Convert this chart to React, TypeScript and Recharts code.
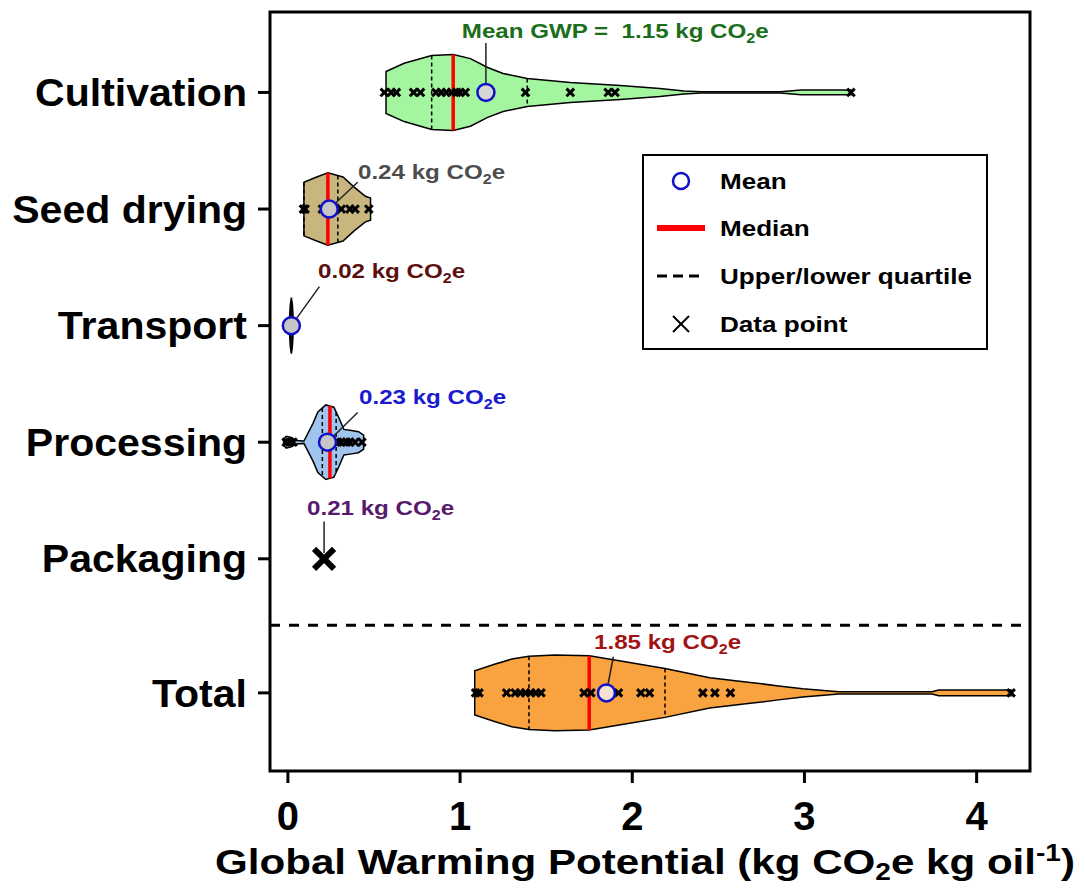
import React from 'react'
import {
  ComposedChart,
  Area,
  Line,
  Scatter,
  XAxis,
  YAxis,
  ReferenceLine,
  ReferenceArea,
} from 'recharts'

const FONT = "'Liberation Sans', Arial, Helvetica, sans-serif"

const categories = ['Cultivation', 'Seed drying', 'Transport', 'Processing', 'Packaging', 'Total']
const rowPos = [1, 2, 3, 4, 5, 6.15]
const separatorPos = 5.57
const xTicks = [0, 1, 2, 3, 4]
const X_DOMAIN: [number, number] = [-0.104, 4.31]
const Y_DOMAIN: [number, number] = [0.31, 6.82]

// violin outlines: GWP value and half width (row units)
const cultivationX = [0.57, 0.675, 0.835, 0.96, 1.06, 1.16, 1.25, 1.39, 1.64, 1.93, 2.16, 2.3, 2.4, 2.86, 2.98, 3.27]
const cultivationW = [0.18, 0.25, 0.317, 0.326, 0.29, 0.214, 0.163, 0.12, 0.086, 0.06, 0.034, 0.013, 0.005, 0.005, 0.02, 0.02]
const seedX = [0.093, 0.16, 0.232, 0.32, 0.383, 0.45, 0.48]
const seedW = [0.23, 0.27, 0.31, 0.275, 0.19, 0.11, 0.095]
const transportX = [0.008, 0.014, 0.02, 0.026, 0.032]
const transportW = [0.03, 0.18, 0.24, 0.18, 0.03]
const processingX = [-0.025, -0.01, 0.02, 0.05, 0.093, 0.145, 0.174, 0.22, 0.267, 0.296, 0.325, 0.37, 0.41, 0.44]
const processingW = [0.025, 0.05, 0.04, 0.015, 0.01, 0.16, 0.26, 0.32, 0.3, 0.21, 0.11, 0.1, 0.09, 0.06]
const totalX = [1.085, 1.2, 1.3, 1.4, 1.55, 1.75, 1.95, 2.19, 2.45, 2.66, 2.85, 2.99, 3.2, 3.74, 3.78, 4.2]
const totalW = [0.19, 0.245, 0.29, 0.315, 0.325, 0.318, 0.27, 0.21, 0.13, 0.094, 0.06, 0.035, 0.01, 0.01, 0.025, 0.025]

const violinX = [cultivationX, seedX, transportX, processingX, null, totalX]
const violinW = [cultivationW, seedW, transportW, processingW, null, totalW]

// summary stats
const means = [1.15, 0.24, 0.02, 0.23, 0.21, 1.85]
const medians = [0.96, 0.232, null, 0.244, null, 1.75]
const lowerQ = [0.835, 0.093, null, 0.2, null, 1.4]
const upperQ = [1.39, 0.29, null, 0.28, null, 2.19]

// individual data points
const cultivationPts = [0.56, 0.6, 0.63, 0.73, 0.77, 0.86, 0.89, 0.92, 0.95, 0.98, 1.0, 1.03, 1.38, 1.64, 1.86, 1.9, 3.27]
const seedPts = [0.09, 0.1, 0.2, 0.24, 0.31, 0.36, 0.39, 0.47]
const processingPts = [-0.01, 0.01, 0.03, 0.22, 0.25, 0.29, 0.31, 0.34, 0.36, 0.39, 0.43]
const packagingPts = [0.21]
const totalPts = [1.09, 1.11, 1.27, 1.32, 1.35, 1.38, 1.41, 1.44, 1.47, 1.72, 1.76, 1.92, 2.05, 2.1, 2.41, 2.48, 2.57, 4.2]
const pointsByRow = [cultivationPts, seedPts, [], processingPts, [], totalPts]

// annotation text anchors and leader ends
const labelPrefix = ['Mean GWP =  ', '', '', '', '', '']
const labelX = [1.01, 0.407, 0.175, 0.413, 0.111, 1.778]
const labelY = [0.533, 1.744, 2.59, 3.672, 4.623, 5.773]
const leaderFromY = [1, 2, 3, 4, 4.95, 6.15]
const leaderToX = [1.15, 0.405, 0.183, 0.405, 0.21, 1.89]
const leaderToY = [0.575, 1.77, 2.666, 3.745, 4.68, 5.84]

const violinFill = ['#a4f5a0', '#c8b67e', '#111111', '#9fc5ee', 'none', '#f9a240']
const labelColor = ['#1b6e1b', '#4d4d4d', '#5c0f0f', '#1a1acf', '#591a6e', '#a01414']
const meanFill = ['#d6d6d6', '#c6c6c6', '#c6c6c6', '#c6c6c6', 'none', '#f6e2d2']

function band(xs: number[], ws: number[], pos: number) {
  const rows = xs.map((x, i) => ({ x, band: [pos - ws[i], pos + ws[i]] }))
  return [{ x: xs[0], band: [pos, pos] }, ...rows, { x: xs[xs.length - 1], band: [pos, pos] }]
}

function widthAt(xs: number[], ws: number[], v: number) {
  if (v <= xs[0]) return ws[0]
  for (let i = 1; i < xs.length; i++) {
    if (v <= xs[i]) {
      const t = (v - xs[i - 1]) / (xs[i] - xs[i - 1])
      return ws[i - 1] + t * (ws[i] - ws[i - 1])
    }
  }
  return ws[ws.length - 1]
}

type Seg = { key: string; median: boolean; data: { x: number; y: number }[] }
const segments: Seg[] = []
categories.forEach((_, i) => {
  const xs = violinX[i]
  const ws = violinW[i]
  if (!xs || !ws) return
  const marks: [number | null, boolean][] = [
    [lowerQ[i], false],
    [upperQ[i], false],
    [medians[i], true],
  ]
  marks.forEach(([v, isMed], k) => {
    if (v == null) return
    const w = widthAt(xs, ws, v)
    segments.push({
      key: `seg-${i}-${k}`,
      median: isMed,
      data: [
        { x: v, y: rowPos[i] - w },
        { x: v, y: rowPos[i] + w },
      ],
    })
  })
})

const pointData = categories.flatMap((_, i) => pointsByRow[i].map((v) => ({ x: v, y: rowPos[i] })))
const packagingData = packagingPts.map((v) => ({ x: v, y: rowPos[4] }))
const meanData = means
  .map((m, i) => ({ x: m, y: rowPos[i], i }))
  .filter((d) => d.i !== 4)
const labelData = categories.map((_, i) => ({ x: labelX[i], y: labelY[i], i }))

function XMark({ cx, cy, r, w }: { cx: number; cy: number; r: number; w: number }) {
  return (
    <g stroke="#000" strokeWidth={w}>
      <line x1={cx - r} y1={cy - r} x2={cx + r} y2={cy + r} />
      <line x1={cx - r} y1={cy + r} x2={cx + r} y2={cy - r} />
    </g>
  )
}

function Co2Label({ x, y, i }: { x: number; y: number; i: number }) {
  return (
    <text
      transform={`translate(${x},${y}) scale(1.15,1)`}
      fill={labelColor[i]}
      fontSize={21}
      fontWeight="bold"
      fontFamily={FONT}
      style={{ whiteSpace: 'pre' }}
    >
      {`${labelPrefix[i]}${means[i].toFixed(2)} kg CO`}
      <tspan fontSize={14} dy={5}>2</tspan>
      <tspan dy={-5}>e</tspan>
    </text>
  )
}

function YTick(props: any) {
  const { x, y, payload } = props
  const idx = rowPos.indexOf(payload.value)
  return (
    <text
      transform={`translate(${x},${y}) scale(1.08,1)`}
      textAnchor="end"
      dy="0.36em"
      fontSize={38}
      fontWeight="bold"
      fontFamily={FONT}
      fill="#000"
    >
      {categories[idx]}
    </text>
  )
}

function XTick(props: any) {
  const { x, y, payload } = props
  return (
    <text x={x} y={y} dy="0.68em" textAnchor="middle" fontSize={40} fontWeight="bold" fontFamily={FONT} fill="#000">
      {payload.value}
    </text>
  )
}

function XTitle(props: any) {
  const vb = props.viewBox ?? { x: 270, y: 771, width: 760 }
  const cx = vb.x + vb.width / 2 - 5
  return (
    <text
      transform={`translate(${cx},${vb.y + 103}) scale(1.17,1)`}
      textAnchor="middle"
      fontSize={36}
      fontWeight="bold"
      fontFamily={FONT}
      fill="#000"
    >
      Global Warming Potential (kg CO
      <tspan fontSize={24} dy={6}>2</tspan>
      <tspan dy={-6}>e kg oil</tspan>
      <tspan fontSize={24} dy={-13}>-1</tspan>
      <tspan dy={13}>)</tspan>
    </text>
  )
}

function LegendBox() {
  const rows = [27, 74, 122, 170]
  const names = ['Mean', 'Median', 'Upper/lower quartile', 'Data point']
  return (
    <svg width={346} height={196} style={{ position: 'absolute', left: 642, top: 154 }}>
      <rect x={1} y={1} width={344} height={194} fill="#fff" stroke="#000" strokeWidth={2} />
      <circle cx={39} cy={rows[0]} r={8} fill="none" stroke="#1010c8" strokeWidth={2.5} />
      <line x1={15} x2={63} y1={rows[1]} y2={rows[1]} stroke="#ff0000" strokeWidth={6} />
      <line x1={15} x2={63} y1={rows[2]} y2={rows[2]} stroke="#000" strokeWidth={3} strokeDasharray="10 6" />
      <XMark cx={39} cy={rows[3]} r={8} w={2} />
      {names.map((n, k) => (
        <text
          key={n}
          transform={`translate(78,${rows[k] + 8}) scale(1.185,1)`}
          fontSize={22}
          fontWeight="bold"
          fontFamily={FONT}
          fill="#000"
        >
          {n}
        </text>
      ))}
    </svg>
  )
}

export default function App() {
  return (
    <div style={{ position: 'absolute', left: 0, top: 0, width: 1085, height: 891, background: '#fff' }}>
      <ComposedChart width={1085} height={891} margin={{ top: 12, right: 55, bottom: 0, left: 0 }}>
        <XAxis
          type="number"
          dataKey="x"
          domain={X_DOMAIN}
          allowDataOverflow
          ticks={xTicks}
          height={120}
          axisLine={false}
          tickSize={12}
          tickMargin={20}
          tickLine={{ stroke: '#000', strokeWidth: 3 }}
          tick={XTick}
          label={<XTitle />}
        />
        <YAxis
          type="number"
          dataKey="y"
          domain={Y_DOMAIN}
          allowDataOverflow
          reversed
          ticks={rowPos}
          width={270}
          axisLine={false}
          tickSize={12}
          tickMargin={11}
          tickLine={{ stroke: '#000', strokeWidth: 3 }}
          tick={YTick}
        />
        <ReferenceArea
          x1={X_DOMAIN[0]}
          x2={X_DOMAIN[1]}
          y1={Y_DOMAIN[0]}
          y2={Y_DOMAIN[1]}
          fill="none"
          fillOpacity={0}
          stroke="#000"
          strokeWidth={3}
        />
        <ReferenceLine y={separatorPos} stroke="#000" strokeWidth={3} strokeDasharray="10 9" />
        {categories.map((c, i) => {
          const xs = violinX[i]
          const ws = violinW[i]
          if (!xs || !ws) return null
          return (
            <Area
              key={`violin-${c}`}
              data={band(xs, ws, rowPos[i])}
              dataKey="band"
              type="linear"
              fill={violinFill[i]}
              fillOpacity={1}
              stroke="#000"
              strokeWidth={1.5}
              dot={false}
              activeDot={false}
              isAnimationActive={false}
            />
          )
        })}
        {segments.map((s) => (
          <Line
            key={s.key}
            data={s.data}
            dataKey="y"
            type="linear"
            stroke={s.median ? '#ff0000' : '#000'}
            strokeWidth={s.median ? 3.5 : 1.5}
            strokeDasharray={s.median ? undefined : '4 3'}
            dot={false}
            activeDot={false}
            isAnimationActive={false}
          />
        ))}
        {categories.map((c, i) => (
          <Line
            key={`leader-${c}`}
            data={[
              { x: i === 0 ? leaderToX[0] : means[i], y: leaderFromY[i] },
              { x: leaderToX[i], y: leaderToY[i] },
            ]}
            dataKey="y"
            type="linear"
            stroke="#222"
            strokeWidth={1.5}
            dot={false}
            activeDot={false}
            isAnimationActive={false}
          />
        ))}
        <Scatter
          data={pointData}
          dataKey="y"
          isAnimationActive={false}
          shape={(p: any) => <XMark cx={p.cx} cy={p.cy} r={3.8} w={3} />}
        />
        <Scatter
          data={packagingData}
          dataKey="y"
          isAnimationActive={false}
          shape={(p: any) => <XMark cx={p.cx} cy={p.cy} r={10} w={6} />}
        />
        <Scatter
          data={meanData}
          dataKey="y"
          isAnimationActive={false}
          shape={(p: any) => {
            const i = p.payload?.i ?? p.i
            return <circle cx={p.cx} cy={p.cy} r={8.5} fill={meanFill[i]} stroke="#1010c8" strokeWidth={2.5} />
          }}
        />
        <Scatter
          data={labelData}
          dataKey="y"
          isAnimationActive={false}
          shape={(p: any) => <Co2Label x={p.cx} y={p.cy} i={p.payload?.i ?? p.i} />}
        />
      </ComposedChart>
      <LegendBox />
    </div>
  )
}
